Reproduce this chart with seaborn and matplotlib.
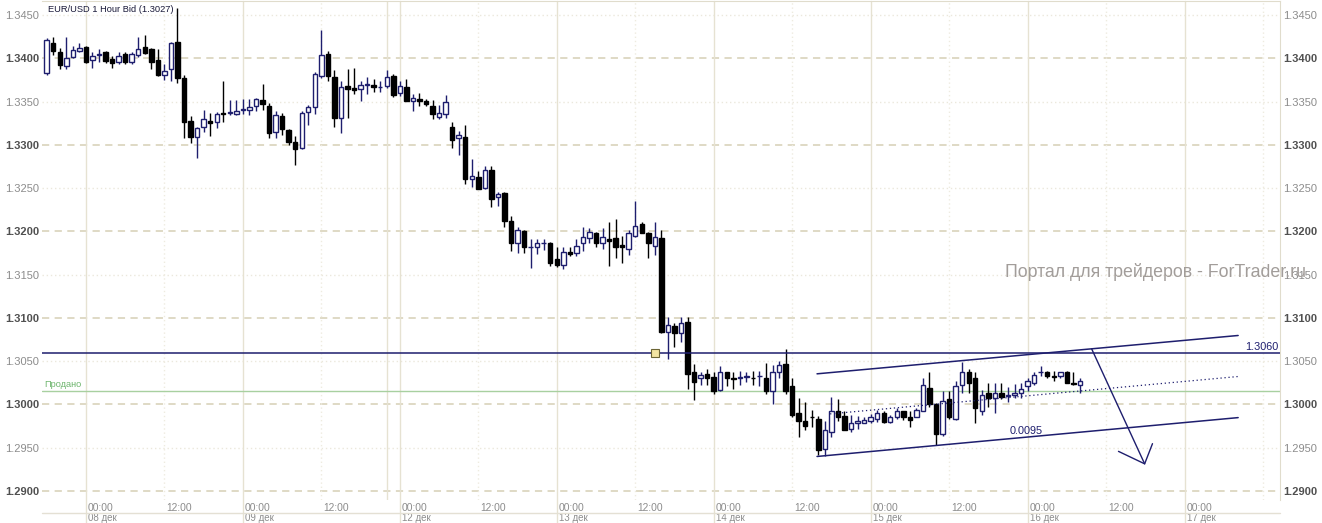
import numpy as np
import matplotlib
matplotlib.use("Agg")
import matplotlib.pyplot as plt
import seaborn as sns
from matplotlib.lines import Line2D

# ---------------- data (EUR/USD, 1 hour bars) ----------------
opens = [1.3383, 1.3418, 1.3407, 1.3391, 1.3402, 1.3408, 1.3413, 1.3398, 1.3404, 1.3407,
         1.3399, 1.3396, 1.3405, 1.3396, 1.3404, 1.3413, 1.3411, 1.3398, 1.3381, 1.3388,
         1.3419, 1.3377, 1.3328, 1.3309, 1.3321, 1.3328, 1.3326, 1.3337, 1.3337, 1.3336,
         1.3340, 1.3340, 1.3345, 1.3352, 1.3345, 1.3315, 1.3333, 1.3317, 1.3303, 1.3296,
         1.3338, 1.3344, 1.3380, 1.3405, 1.3378, 1.3331, 1.3368, 1.3366, 1.3365, 1.3369,
         1.3369, 1.3367, 1.3368, 1.3380, 1.3360, 1.3367, 1.3351, 1.3353, 1.3351, 1.3345,
         1.3332, 1.3336, 1.3321, 1.3308, 1.3309, 1.3261, 1.3263, 1.3250, 1.3271, 1.3240,
         1.3244, 1.3212, 1.3187, 1.3201, 1.3182, 1.3182, 1.3186, 1.3187, 1.3168, 1.3161,
         1.3176, 1.3175, 1.3187, 1.3192, 1.3198, 1.3187, 1.3191, 1.3192, 1.3184, 1.3180,
         1.3195, 1.3208, 1.3198, 1.3183, 1.3192, 1.3084, 1.3091, 1.3082, 1.3095, 1.3037,
         1.3030, 1.3035, 1.3032, 1.3017, 1.3037, 1.3030, 1.3030, 1.3032, 1.3031, 1.3033,
         1.3031, 1.3016, 1.3038, 1.3047, 1.3021, 1.2990, 1.2981, 1.2986, 1.2983, 1.2948,
         1.2968, 1.2992, 1.2987, 1.2972, 1.2978, 1.2979, 1.2981, 1.2983, 1.2990, 1.2980,
         1.2986, 1.2992, 1.2986, 1.2986, 1.2993, 1.3019, 1.3001, 1.2966, 1.3006, 1.2983,
         1.3023, 1.3037, 1.3030, 1.2993, 1.3013, 1.3007, 1.3013, 1.3010, 1.3011, 1.3013,
         1.3021, 1.3025, 1.3037, 1.3038, 1.3033, 1.3033, 1.3038, 1.3025, 1.3022]
highs = [1.3423, 1.3425, 1.3412, 1.3425, 1.3414, 1.3418, 1.3414, 1.3407, 1.3411, 1.3408,
         1.3403, 1.3407, 1.3407, 1.3407, 1.3425, 1.3427, 1.3412, 1.3411, 1.3393, 1.3419,
         1.3458, 1.3381, 1.3333, 1.3321, 1.3340, 1.3337, 1.3338, 1.3374, 1.3352, 1.3352,
         1.3353, 1.3353, 1.3354, 1.3370, 1.3348, 1.3339, 1.3337, 1.3318, 1.3310, 1.3339,
         1.3346, 1.3384, 1.3433, 1.3408, 1.3387, 1.3374, 1.3388, 1.3389, 1.3374, 1.3378,
         1.3376, 1.3374, 1.3387, 1.3382, 1.3374, 1.3376, 1.3359, 1.3360, 1.3353, 1.3352,
         1.3346, 1.3358, 1.3326, 1.3316, 1.3323, 1.3284, 1.3270, 1.3276, 1.3276, 1.3246,
         1.3245, 1.3218, 1.3205, 1.3202, 1.3191, 1.3191, 1.3191, 1.3188, 1.3182, 1.3182,
         1.3182, 1.3191, 1.3205, 1.3204, 1.3199, 1.3204, 1.3211, 1.3214, 1.3195, 1.3202,
         1.3235, 1.3211, 1.3199, 1.3211, 1.3202, 1.3101, 1.3094, 1.3101, 1.3101, 1.3047,
         1.3038, 1.3041, 1.3038, 1.3044, 1.3038, 1.3038, 1.3039, 1.3038, 1.3039, 1.3039,
         1.3048, 1.3046, 1.3050, 1.3064, 1.3030, 1.3008, 1.3003, 1.2994, 1.2987, 1.2981,
         1.3009, 1.3006, 1.2993, 1.2988, 1.2987, 1.2986, 1.2989, 1.2994, 1.2992, 1.2988,
         1.2996, 1.2993, 1.2992, 1.2996, 1.3031, 1.3037, 1.3002, 1.3015, 1.3015, 1.3027,
         1.3049, 1.3041, 1.3037, 1.3017, 1.3025, 1.3025, 1.3025, 1.3020, 1.3024, 1.3025,
         1.3031, 1.3037, 1.3045, 1.3039, 1.3039, 1.3038, 1.3039, 1.3037, 1.3030]
lows = [1.3381, 1.3404, 1.3388, 1.3388, 1.3400, 1.3407, 1.3395, 1.3389, 1.3396, 1.3395,
        1.3389, 1.3393, 1.3393, 1.3393, 1.3402, 1.3405, 1.3388, 1.3380, 1.3375, 1.3374,
        1.3372, 1.3308, 1.3302, 1.3285, 1.3315, 1.3310, 1.3320, 1.3326, 1.3335, 1.3335,
        1.3336, 1.3335, 1.3339, 1.3340, 1.3308, 1.3308, 1.3311, 1.3300, 1.3277, 1.3295,
        1.3323, 1.3336, 1.3377, 1.3374, 1.3321, 1.3314, 1.3331, 1.3359, 1.3351, 1.3359,
        1.3361, 1.3361, 1.3366, 1.3355, 1.3356, 1.3351, 1.3339, 1.3345, 1.3345, 1.3330,
        1.3330, 1.3331, 1.3296, 1.3288, 1.3255, 1.3251, 1.3249, 1.3249, 1.3228, 1.3229,
        1.3205, 1.3177, 1.3175, 1.3175, 1.3158, 1.3174, 1.3179, 1.3160, 1.3159, 1.3157,
        1.3171, 1.3172, 1.3177, 1.3187, 1.3182, 1.3180, 1.3160, 1.3169, 1.3164, 1.3173,
        1.3194, 1.3198, 1.3169, 1.3173, 1.3082, 1.3053, 1.3066, 1.3072, 1.3018, 1.3005,
        1.3022, 1.3022, 1.3012, 1.3015, 1.3021, 1.3018, 1.3023, 1.3026, 1.3022, 1.3021,
        1.3012, 1.3000, 1.3030, 1.3012, 1.2985, 1.2962, 1.2971, 1.2974, 1.2942, 1.2941,
        1.2962, 1.2981, 1.2971, 1.2968, 1.2972, 1.2978, 1.2978, 1.2980, 1.2979, 1.2979,
        1.2983, 1.2982, 1.2974, 1.2985, 1.2992, 1.2997, 1.2953, 1.2964, 1.2983, 1.2982,
        1.3013, 1.3013, 1.2979, 1.2988, 1.2997, 1.2990, 1.3006, 1.3003, 1.3008, 1.3008,
        1.3016, 1.3023, 1.3033, 1.3030, 1.3027, 1.3031, 1.3025, 1.3022, 1.3013]
closes = [1.3421, 1.3408, 1.3392, 1.3400, 1.3410, 1.3412, 1.3396, 1.3403, 1.3405, 1.3397,
          1.3395, 1.3403, 1.3396, 1.3405, 1.3411, 1.3406, 1.3396, 1.3381, 1.3385, 1.3418,
          1.3377, 1.3326, 1.3309, 1.3320, 1.3330, 1.3325, 1.3336, 1.3336, 1.3337, 1.3339,
          1.3341, 1.3344, 1.3353, 1.3347, 1.3314, 1.3335, 1.3318, 1.3303, 1.3295, 1.3337,
          1.3344, 1.3382, 1.3404, 1.3380, 1.3331, 1.3367, 1.3365, 1.3363, 1.3369, 1.3370,
          1.3367, 1.3367, 1.3378, 1.3358, 1.3368, 1.3351, 1.3354, 1.3351, 1.3347, 1.3336,
          1.3337, 1.3350, 1.3306, 1.3311, 1.3261, 1.3264, 1.3249, 1.3271, 1.3237, 1.3243,
          1.3212, 1.3186, 1.3202, 1.3182, 1.3182, 1.3187, 1.3186, 1.3164, 1.3161, 1.3176,
          1.3174, 1.3183, 1.3194, 1.3199, 1.3187, 1.3194, 1.3189, 1.3182, 1.3182, 1.3198,
          1.3206, 1.3198, 1.3187, 1.3194, 1.3084, 1.3092, 1.3082, 1.3094, 1.3035, 1.3026,
          1.3034, 1.3031, 1.3016, 1.3038, 1.3030, 1.3029, 1.3032, 1.3033, 1.3030, 1.3033,
          1.3016, 1.3038, 1.3046, 1.3016, 1.2988, 1.2981, 1.2975, 1.2985, 1.2947, 1.2970,
          1.2993, 1.2986, 1.2971, 1.2979, 1.2981, 1.2982, 1.2985, 1.2990, 1.2980, 1.2986,
          1.2993, 1.2986, 1.2982, 1.2994, 1.3022, 1.3001, 1.2966, 1.3004, 1.2986, 1.3021,
          1.3037, 1.3025, 1.2996, 1.3011, 1.3007, 1.3013, 1.3009, 1.3011, 1.3013, 1.3018,
          1.3027, 1.3034, 1.3037, 1.3033, 1.3032, 1.3037, 1.3025, 1.3024, 1.3027]

# time axis: one tick every 12 bars, dates under the 00:00 ticks
tick_bars = [6, 18, 30, 42, 54, 66, 78, 90, 102, 114, 126, 138, 150, 162, 174]
tick_times = ["00:00", "12:00"] * 7 + ["00:00"]
day_labels = ["08 дек", "09 дек", "12 дек", "13 дек", "14 дек", "15 дек", "16 дек", "17 дек"]
week_break_bar = 52

# price axis
price_levels = [1.2900, 1.2950, 1.3000, 1.3050, 1.3100, 1.3150, 1.3200,
                1.3250, 1.3300, 1.3350, 1.3400, 1.3450]

# drawing objects on the chart
resistance_level = 1.3060
sold_level = 1.3015
marker_bar = 93
channel_x = [117.8, 182.2]
channel_upper = [1.30354, 1.30797]
channel_lower = [1.29399, 1.29848]
channel_mid_x = [119.8, 182.2]
channel_mid = [1.29891, 1.30323]
arrow_x = [159.8, 167.9]
arrow_y = [1.30642, 1.29314]
arrow_wing_x = [163.9, 167.9, 169.1]
arrow_wing_y = [1.29458, 1.29314, 1.29547]
channel_width_label = "0.0095"
channel_label_pos = (147.3, 1.29695)

title = "EUR/USD 1 Hour Bid (1.3027)"
watermark = "Портал для трейдеров - ForTrader.ru"

# ---------------- style ----------------
sns.set_style("white")
plt.rcParams["font.family"] = ["Liberation Sans", "DejaVu Sans"]

W, H = 1322, 523
fig = plt.figure(figsize=(W / 100, H / 100), dpi=100)
fig.patch.set_facecolor("white")
ax = fig.add_axes([42 / W, (H - 500) / H, (1280 - 42) / W, 499 / H])
ax.set_facecolor("white")
ax.set_xlim(-0.72, 188.6)
ax.set_ylim(1.28896, 1.34662)

NAVY = "#1e1e6e"

# grid
for k, lvl in enumerate(price_levels):
    if k % 2 == 0:
        ax.axhline(lvl, color="#dcd7c0", lw=1.3, ls=(0, (4, 3)), zorder=1)
    else:
        ax.axhline(lvl, color="#ebe8dc", lw=1.0, ls=(0, (1, 2)), zorder=1)
for t, lab in zip(tick_bars + [186], tick_times + ["12:00"]):
    if lab == "00:00":
        ax.axvline(t, ymin=-0.06, ymax=1, color="#e6e2d2", lw=1.0, zorder=1, clip_on=False)
    else:
        ax.axvline(t, color="#eeebe0", lw=1.0, ls=(0, (1, 2)), zorder=1)
ax.axvline(week_break_bar, color="#e6e2d2", lw=1.0, zorder=1)

# candles
o = np.array(opens); h = np.array(highs); l = np.array(lows); c = np.array(closes)
x = np.arange(len(o))
up = c >= o
wick_col = np.where(up, NAVY, "black")
ax.vlines(x, l, h, colors=wick_col, lw=1.0, zorder=3)
bottoms = np.minimum(o, c)
heights = np.maximum(np.abs(c - o), 0.00004)
face = np.where(up, "white", "black")
edge = np.where(up, NAVY, "black")
ax.bar(x, heights, bottom=bottoms, width=0.68, color=face, edgecolor=edge,
       linewidth=1.0, zorder=4)

# horizontal lines
ax.axhline(resistance_level, color=NAVY, lw=1.1, zorder=5)
ax.axhline(sold_level, color="#a8d0a0", lw=1.0, zorder=2)
ax.plot([marker_bar], [resistance_level], marker="s", ms=5.5, mfc="#f2e4a2",
        mec="#6b6434", mew=0.8, zorder=6)
ax.annotate("Продано", xy=(0.0015, sold_level), xycoords=("axes fraction", "data"),
            xytext=(0, 2), textcoords="offset pixels", ha="left", va="bottom",
            fontsize=6.6, color="#6cb46c")
ax.annotate(f"{resistance_level:.4f}", xy=(0.9985, resistance_level),
            xycoords=("axes fraction", "data"), xytext=(0, 1), textcoords="offset pixels",
            ha="right", va="bottom", fontsize=7.8, color=NAVY)

# channel + arrow
ax.plot(channel_x, channel_upper, color=NAVY, lw=1.1, zorder=5)
ax.plot(channel_x, channel_lower, color=NAVY, lw=1.1, zorder=5)
ax.plot(channel_mid_x, channel_mid, color=NAVY, lw=0.9, ls=(0, (1, 2.2)), zorder=5)
ax.plot(arrow_x, arrow_y, color=NAVY, lw=1.0, zorder=5)
ax.plot(arrow_wing_x, arrow_wing_y, color=NAVY, lw=1.0, zorder=5)
ax.text(channel_label_pos[0], channel_label_pos[1], channel_width_label, fontsize=7.8,
        color=NAVY, ha="left", va="center", zorder=6)

# frame: only faint top/right borders
for side in ("left", "bottom"):
    ax.spines[side].set_visible(False)
for side in ("top", "right"):
    ax.spines[side].set_color("#e0dccc")

# y ticks on both sides, round figures bold
ax.set_yticks(price_levels)
ax.set_yticklabels([f"{v:.4f}" for v in price_levels])
ax.yaxis.set_ticks_position("both")
ax.tick_params(axis="y", length=0, left=True, right=True, labelleft=True,
               labelright=True, pad=2, labelsize=8)
for k, tick in enumerate(ax.yaxis.get_major_ticks()):
    for lab in (tick.label1, tick.label2):
        lab.set_visible(True)
        if k % 2 == 0:
            lab.set_fontweight("bold"); lab.set_color("#505050")
        else:
            lab.set_color("#8c8c8c")
ax.set_xticks([])

# x labels (left-aligned at the tick)
di = 0
for t, lab in zip(tick_bars, tick_times):
    ax.annotate(lab, xy=(t, 0), xycoords=("data", "axes fraction"), xytext=(2, -3),
                textcoords="offset pixels", ha="left", va="top", fontsize=7.4,
                color="#8c8c8c")
    if lab == "00:00":
        ax.annotate(day_labels[di], xy=(t, 0), xycoords=("data", "axes fraction"),
                    xytext=(2, -13), textcoords="offset pixels", ha="left", va="top",
                    fontsize=7.0, color="#8c8c8c")
        di += 1

fig.add_artist(Line2D([42 / W, 1280 / W], [1 - 513 / H, 1 - 513 / H], color="#e4e0d4", lw=1.0))

fig.text(48 / W, 1 - 10 / H, title, fontsize=6.7, color="#1a1a3a", ha="left", va="center")
fig.text(1005 / W, 1 - 272 / H, watermark, fontsize=12.8, color="#a29d9a", ha="left",
         va="center", zorder=10)

fig.savefig("out.png", dpi=100, facecolor="white")
